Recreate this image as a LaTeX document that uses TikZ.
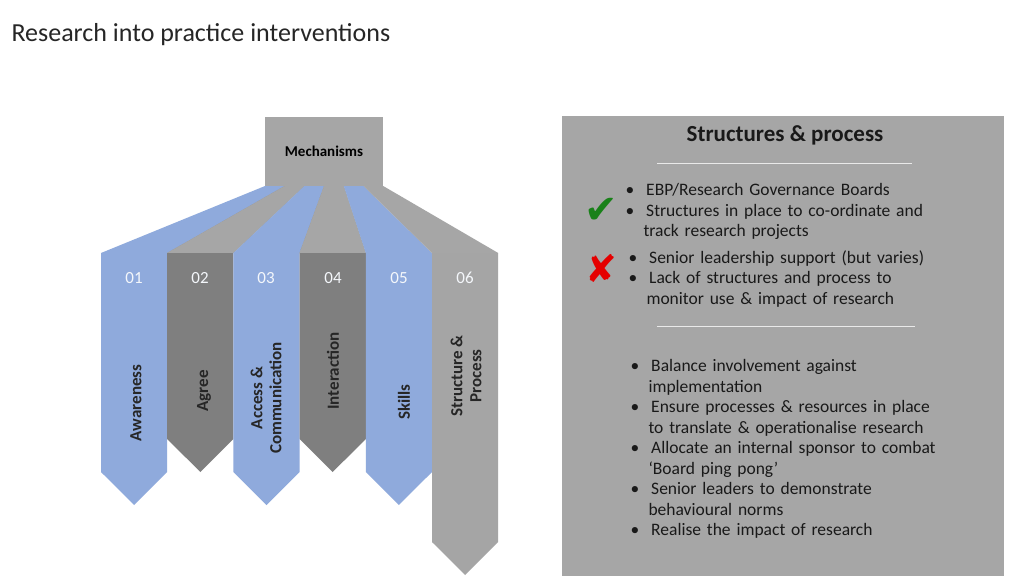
\documentclass[tikz,border=0pt]{standalone}
\usepackage{fontspec}
\setmainfont{Carlito}
\newfontfamily\symfont{DejaVu Sans}
\definecolor{mblue}{HTML}{8FAADC}
\definecolor{mgray}{HTML}{7F7F7F}
\definecolor{lgray}{HTML}{A6A6A6}
\definecolor{fgray}{HTML}{A5A5A5}
\tikzset{
  colnum/.style={text=white!90!mblue,font=\fontsize{17}{17}\selectfont},
  collab/.style={rotate=90,font=\bfseries\fontsize{17}{19}\selectfont,align=center,text=black!85},
  blist/.style={anchor=north west,align=left,text width=340pt,font=\fontsize{17.5}{20.5}\selectfont,text=black!90}
}
\begin{document}
\begin{tikzpicture}[x=1pt,y=-1pt]
\useasboundingbox (0,0) rectangle (1024,576);
\fill[white] (0,0) rectangle (1024,576);
\node[anchor=west,font=\fontsize{26}{26}\selectfont,text=black!85] (title) at (8,35) {Research into practice interventions};
%
% fans and columns
\foreach \i/\col/\bot in {0/mblue/505,1/mgray/472,2/mblue/505,3/mgray/472,4/mblue/505,5/fgray/575}{
  \pgfmathsetmacro{\xl}{101+66.2*\i}
  \pgfmathsetmacro{\xr}{\xl+66.2}
  \pgfmathsetmacro{\tl}{265+19.7*\i}
  \pgfmathsetmacro{\tr}{\tl+19.7}
  \ifnum\i=5 \fill[lgray] (\xl,253) -- (\tl,186) -- (\tr,186) -- (\xr,253) -- cycle;
  \else \fill[\col] (\xl,253) -- (\tl,186) -- (\tr,186) -- (\xr,253) -- cycle; \fi
  \ifnum\i=1 \fill[lgray] (\xl,253) -- (\tl,186) -- (\tr,186) -- (\xr,253) -- cycle; \fi
  \ifnum\i=3 \fill[lgray] (\xl,253) -- (\tl,186) -- (\tr,186) -- (\xr,253) -- cycle; \fi
  \pgfmathsetmacro{\sh}{\bot-33}
  \fill[\col] (\xl,253) -- (\xr,253) -- (\xr,\sh) -- ({(\xl+\xr)/2},\bot) -- (\xl,\sh) -- cycle;
}
\node[fill=lgray,minimum width=118pt,minimum height=69pt,inner sep=0pt,font=\bfseries\fontsize{15}{15}\selectfont] (mech) at (324,151.5) {Mechanisms};
%
\node[colnum] (n1) at (134,278) {01};
\node[colnum] (n2) at (200,278) {02};
\node[colnum] (n3) at (266,278) {03};
\node[colnum] (n4) at (333,278) {04};
\node[colnum] (n5) at (399,278) {05};
\node[colnum] (n6) at (465,278) {06};
\node[collab] (l1) at (136,403) {Awareness};
\node[collab] (l2) at (204,391) {Agree};
\node[collab] (l3) at (266,398) {Access \&\\Communication};
\node[collab] (l4) at (333,371) {Interaction};
\node[collab] (l5) at (404,402) {Skills};
\node[collab] (l6) at (466,376) {Structure \&\\Process};
%
% right panel
\fill[lgray] (562,116) rectangle (1004,576);
\node[font=\bfseries\fontsize{23}{23}\selectfont,text=black!90] (sp) at (785,135) {Structures \& process};
\draw[white!75!lgray,line width=.8pt] (657,163) -- (912,163);
\draw[white!75!lgray,line width=.8pt] (657,326) -- (915,326);
\node[text=green!45!black!90,font=\symfont\fontsize{40}{40}\selectfont] (ok) at (601,211) {✔};
\node[text=red!90!black,font=\symfont\fontsize{38}{38}\selectfont] (no) at (601,268) {✘};
\node[blist] (b1) at (622,180) {\textbullet\hspace{12pt}EBP/Research Governance Boards\\
\textbullet\hspace{12pt}Structures in place to co-ordinate and\\\hspace{18pt}track research projects};
\node[blist] (b2) at (625,247) {\textbullet\hspace{12pt}Senior leadership support (but varies)\\
\textbullet\hspace{12pt}Lack of structures and process to\\\hspace{18pt}monitor use \& impact of research};
\node[blist] (b3) at (627,356) {\textbullet\hspace{12pt}Balance involvement against\\\hspace{18pt}implementation\\
\textbullet\hspace{12pt}Ensure processes \& resources in place\\\hspace{18pt}to translate \& operationalise research\\
\textbullet\hspace{12pt}Allocate an internal sponsor to combat\\\hspace{18pt}‘Board ping pong’\\
\textbullet\hspace{12pt}Senior leaders to demonstrate\\\hspace{18pt}behavioural norms\\
\textbullet\hspace{12pt}Realise the impact of research};
\end{tikzpicture}
\end{document}
